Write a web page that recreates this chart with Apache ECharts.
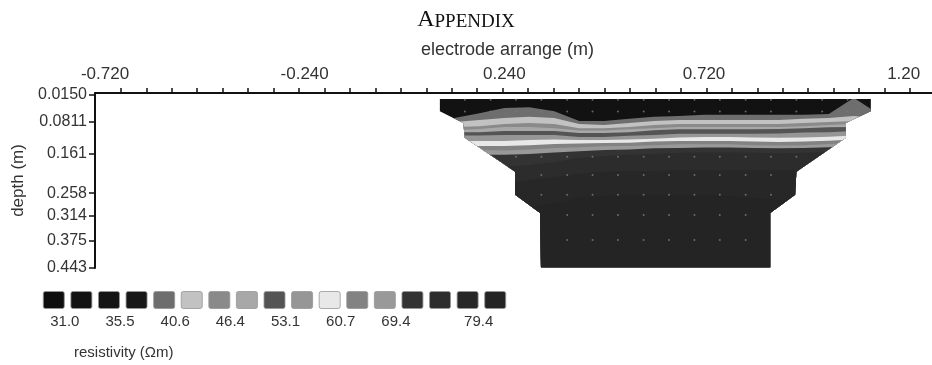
<!DOCTYPE html>
<html>
<head>
<meta charset="utf-8">
<title>Appendix - resistivity section</title>
<script src="https://cdn.jsdelivr.net/npm/echarts@6/dist/echarts.min.js"></script>
<style>
  html, body { margin: 0; padding: 0; background: #fff; }
  #chart { width: 932px; height: 365px; }
</style>
</head>
<body>
<div id="chart"></div>
<script>
(function () {
  'use strict';

  // top axis: electrode arrange (m)
  var xLabelValues = [-0.72, -0.24, 0.24, 0.72, 1.20];
  var xLabelTexts = ['-0.720', '-0.240', '0.240', '0.720', '1.20'];
  var xTickStart = -0.682, xTickStep = 0.0612, xTickCount = 32;

  // left axis: depth (m)
  var depthValues = [0.015, 0.0811, 0.161, 0.258, 0.314, 0.375, 0.443];
  var depthTexts = ['0.0150', '0.0811', '0.161', '0.258', '0.314', '0.375', '0.443'];

  // 17 resistivity classes (colour bar) and the labels under it
  var classColors = ['#0f0f0f', '#121212', '#141414', '#171717', '#6e6e6e', '#c2c2c2',
    '#8a8a8a', '#a8a8a8', '#545454', '#969696', '#e8e8e8', '#828282', '#999999',
    '#333333', '#2c2c2c', '#272727', '#242424'];
  var classLabelPos = [0.9, 2.9, 4.9, 6.9, 8.9, 10.9, 12.9, 15.9];
  var classLabels = ['31.0', '35.5', '40.6', '46.4', '53.1', '60.7', '69.4', '79.4'];

  // columns (m) where the contour boundaries were read
  var colX = [0.06, 0.12, 0.18, 0.24, 0.30, 0.36, 0.42, 0.48, 0.54, 0.60,
    0.66, 0.72, 0.78, 0.84, 0.90, 0.96, 1.02, 1.08, 1.14];

  // contour boundaries: depth (m) at each column, from top to bottom
  var c1 = [0.072, 0.072, 0.060, 0.047, 0.045, 0.055, 0.079, 0.079, 0.074, 0.069, 0.067, 0.064, 0.064, 0.064, 0.064, 0.064, 0.062, 0.022, 0.062];
  var c2 = [0.082, 0.082, 0.077, 0.072, 0.069, 0.072, 0.087, 0.089, 0.084, 0.079, 0.077, 0.077, 0.077, 0.077, 0.077, 0.074, 0.072, 0.067, 0.072];
  var c3 = [0.094, 0.094, 0.092, 0.087, 0.084, 0.087, 0.097, 0.097, 0.094, 0.089, 0.087, 0.087, 0.087, 0.087, 0.087, 0.084, 0.082, 0.079, 0.082];
  var c4 = [0.102, 0.102, 0.099, 0.094, 0.094, 0.097, 0.103, 0.103, 0.100, 0.097, 0.094, 0.094, 0.094, 0.094, 0.094, 0.092, 0.089, 0.087, 0.089];
  var c5 = [0.107, 0.107, 0.107, 0.104, 0.104, 0.104, 0.109, 0.109, 0.107, 0.102, 0.100, 0.100, 0.100, 0.100, 0.099, 0.097, 0.095, 0.094, 0.094];
  var c6 = [0.115, 0.115, 0.115, 0.114, 0.114, 0.114, 0.119, 0.119, 0.116, 0.114, 0.111, 0.111, 0.111, 0.111, 0.110, 0.108, 0.107, 0.104, 0.104];
  var c7 = [0.129, 0.129, 0.129, 0.129, 0.126, 0.125, 0.126, 0.126, 0.125, 0.123, 0.120, 0.119, 0.119, 0.120, 0.121, 0.120, 0.118, 0.115, 0.114];
  var c8 = [0.141, 0.141, 0.141, 0.141, 0.139, 0.136, 0.135, 0.134, 0.133, 0.130, 0.129, 0.129, 0.129, 0.130, 0.131, 0.130, 0.128, 0.125, 0.124];
  var c9 = [0.151, 0.151, 0.151, 0.152, 0.150, 0.146, 0.144, 0.142, 0.141, 0.139, 0.137, 0.137, 0.137, 0.139, 0.140, 0.139, 0.136, 0.134, 0.134];
  var c10 = [0.163, 0.163, 0.163, 0.163, 0.161, 0.157, 0.154, 0.151, 0.150, 0.147, 0.146, 0.145, 0.145, 0.146, 0.147, 0.146, 0.144, 0.141, 0.141];
  var c11 = [0.196, 0.196, 0.196, 0.193, 0.188, 0.181, 0.171, 0.166, 0.163, 0.161, 0.158, 0.157, 0.157, 0.158, 0.160, 0.158, 0.156, 0.154, 0.154];
  var c12 = [0.238, 0.238, 0.238, 0.233, 0.225, 0.218, 0.210, 0.205, 0.203, 0.203, 0.201, 0.201, 0.201, 0.201, 0.201, 0.201, 0.201, 0.201, 0.201];
  var c13 = [0.312, 0.312, 0.312, 0.304, 0.295, 0.282, 0.270, 0.265, 0.262, 0.262, 0.262, 0.262, 0.265, 0.270, 0.275, 0.280, 0.285, 0.290, 0.290];

  // class of the layer that starts at each boundary (first one starts at the top)
  var layerTops = [null, c1, c2, c3, c4, c5, c6, c7, c8, c9, c10, c11, c12, c13];
  var layerClass = [1, 4, 5, 6, 7, 8, 9, 10, 11, 12, 13, 14, 15, 16];

  // data coverage of the section: [depth, left x, right x]
  var coverage = [
    [0.025, 0.085, 1.121], [0.055, 0.085, 1.121], [0.084, 0.141, 1.061],
    [0.121, 0.145, 1.061], [0.205, 0.266, 0.942], [0.262, 0.266, 0.939],
    [0.307, 0.326, 0.879], [0.441, 0.328, 0.879]
  ];

  // datum points: x positions and rows [depth, first column, last column]
  var datumX = [0.145, 0.207, 0.268, 0.329, 0.391, 0.452, 0.513, 0.575,
    0.636, 0.697, 0.758, 0.820, 0.881, 0.942, 1.004, 1.065];
  var datumRows = [[0.027, 0, 15], [0.056, 0, 15], [0.168, 2, 13], [0.213, 3, 12],
    [0.262, 3, 12], [0.312, 4, 11], [0.374, 4, 11]];

  var depthMin = 0.010, depthMax = 0.443;

  var xTicks = [];
  for (var t = 0; t < xTickCount; t++) xTicks.push(+(xTickStart + t * xTickStep).toFixed(4));

  function lookup(values, texts, v) {
    for (var i = 0; i < values.length; i++) {
      if (Math.abs(values[i] - v) < 1e-6) return texts[i];
    }
    return '';
  }

  var datumData = [];
  datumRows.forEach(function (r) {
    for (var k = r[1]; k <= r[2]; k++) datumData.push([datumX[k], r[0]]);
  });

  var font = 'Liberation Sans, Arial, sans-serif';
  var ink = '#111';

  var myChart = echarts.init(document.getElementById('chart'));

  var option = {
    backgroundColor: '#fff',
    animation: false,
    title: [
      {
        text: '{a|A}{b|PPENDIX}',
        left: 'center', top: 8, padding: 0,
        textStyle: {
          fontWeight: 'normal',
          rich: {
            a: { fontFamily: 'Liberation Serif, serif', fontSize: 24, fontWeight: 'normal', color: '#111', verticalAlign: 'bottom' },
            b: { fontFamily: 'Liberation Serif, serif', fontSize: 19, fontWeight: 'normal', color: '#111', verticalAlign: 'bottom' }
          }
        }
      },
      {
        text: 'resistivity (Ωm)',
        left: 74, top: 345, padding: 0,
        textStyle: { fontFamily: font, fontSize: 15, fontWeight: 'normal', color: '#333' }
      }
    ],
    grid: [
      { left: 95, top: 93, right: 0, height: 175 },
      { left: 40, top: 291, width: 469, height: 18 }
    ],
    xAxis: [
      {
        type: 'value', gridIndex: 0, position: 'top',
        min: -0.744, max: 1.268,
        name: 'electrode arrange (m)', nameLocation: 'middle', nameGap: 34,
        nameTextStyle: { fontFamily: font, fontSize: 18, color: '#333', padding: [0, 12, 0, 0] },
        axisLine: { show: true, onZero: false, lineStyle: { color: ink, width: 2 } },
        axisTick: { show: true, length: 5, customValues: xTicks, lineStyle: { color: ink, width: 1.5 } },
        axisLabel: {
          customValues: xLabelValues, margin: 10,
          fontFamily: font, fontSize: 17, color: '#333',
          formatter: function (v) { return lookup(xLabelValues, xLabelTexts, v); }
        },
        splitLine: { show: false }
      },
      {
        type: 'value', gridIndex: 1, min: 0, max: 17,
        axisLine: { show: false }, axisTick: { show: false }, splitLine: { show: false },
        axisLabel: {
          customValues: classLabelPos, margin: 5,
          fontFamily: font, fontSize: 15, color: '#333',
          formatter: function (v) { return lookup(classLabelPos, classLabels, v); }
        }
      }
    ],
    yAxis: [
      {
        type: 'value', gridIndex: 0, inverse: true,
        min: depthMin, max: depthMax,
        name: 'depth (m)', nameLocation: 'middle', nameGap: 67, nameRotate: 90,
        nameTextStyle: { fontFamily: font, fontSize: 17, color: '#333' },
        axisLine: { show: true, onZero: false, lineStyle: { color: ink, width: 2 } },
        axisTick: { show: true, length: 6, customValues: depthValues, lineStyle: { color: ink, width: 1.5 } },
        axisLabel: {
          customValues: depthValues, margin: 8,
          fontFamily: font, fontSize: 16, color: '#333',
          formatter: function (v) { return lookup(depthValues, depthTexts, v); }
        },
        splitLine: { show: false }
      },
      { type: 'value', gridIndex: 1, min: 0, max: 1, show: false }
    ],
    series: [
      {
        // resistivity layers, each drawn from its top boundary down, clipped to the data coverage
        name: 'resistivity', type: 'custom',
        xAxisIndex: 0, yAxisIndex: 0, silent: true,
        data: layerClass.map(function (c, i) { return [i, c]; }),
        renderItem: function (params, api) {
          var i = params.dataIndex;
          var top = layerTops[i];
          var pts = [];
          for (var j = 0; j < colX.length; j++) {
            pts.push(api.coord([colX[j], top ? top[j] : depthMin]));
          }
          pts.push(api.coord([colX[colX.length - 1], depthMax]));
          pts.push(api.coord([colX[0], depthMax]));

          var clip = [];
          coverage.forEach(function (r) { clip.push(api.coord([r[1], r[0]])); });
          for (var k = coverage.length - 1; k >= 0; k--) {
            clip.push(api.coord([coverage[k][2], coverage[k][0]]));
          }
          return {
            type: 'polygon',
            shape: { points: pts },
            style: { fill: classColors[layerClass[i]] },
            clipPath: { type: 'polygon', shape: { points: clip } }
          };
        }
      },
      {
        name: 'datum', type: 'scatter', xAxisIndex: 0, yAxisIndex: 0,
        symbolSize: 2, silent: true,
        itemStyle: { color: '#7c7c7c' },
        data: datumData
      },
      {
        name: 'scale', type: 'bar', xAxisIndex: 1, yAxisIndex: 1,
        barWidth: 22, silent: true,
        data: classColors.map(function (c, i) {
          return { value: [i + 0.5, 1], itemStyle: { color: c } };
        }),
        itemStyle: { borderColor: 'rgba(150,150,150,0.8)', borderWidth: 1, borderRadius: 2 }
      }
    ]
  };

  myChart.setOption(option);
}());
</script>
</body>
</html>
